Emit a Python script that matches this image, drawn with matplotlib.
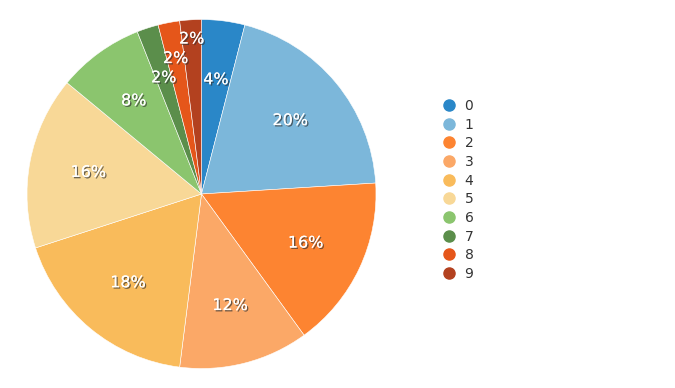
import matplotlib
matplotlib.use("Agg")
import matplotlib.pyplot as plt
import matplotlib.patheffects as pe
from matplotlib.lines import Line2D
import numpy as np

# Data
categories = ["0", "1", "2", "3", "4", "5", "6", "7", "8", "9"]
values = [4, 20, 16, 12, 18, 16, 8, 2, 2, 2]
colors = ["#2a87c8", "#7cb7da", "#fd8431", "#fba867", "#f9bb5b",
          "#f8d897", "#8bc56e", "#5b8e4b", "#e5561a", "#b3411f"]
# how far each label sits from the centre (fraction of radius)
label_dist = [0.66, 0.66, 0.66, 0.66, 0.66, 0.66, 0.66, 0.70, 0.79, 0.89]

W, H = 675, 388
fig = plt.figure(figsize=(W / 100, H / 100), dpi=100)

cx, cy, r = 201.5, 194, 174.5
ax = fig.add_axes([(cx - r) / W, (H - cy - r) / H, 2 * r / W, 2 * r / H])
wedges, _ = ax.pie(values, colors=colors, startangle=90, counterclock=False,
                   radius=1, wedgeprops=dict(linewidth=0.4, edgecolor="white"))
ax.set_xlim(-1, 1)
ax.set_ylim(-1, 1)
ax.set_aspect("equal")
ax.axis("off")

total = sum(values)
shadow = [pe.withSimplePatchShadow(offset=(1, -1), shadow_rgbFace="#333333", alpha=0.7),
          pe.Normal()]
for w, v, d in zip(wedges, values, label_dist):
    ang = np.deg2rad((w.theta1 + w.theta2) / 2)
    ax.text(d * np.cos(ang), d * np.sin(ang), f"{round(100 * v / total)}%",
            ha="center", va="center", color="white", fontsize=11.5,
            fontfamily="DejaVu Sans", path_effects=shadow)

handles = [Line2D([], [], marker="o", linestyle="", markersize=8,
                  markerfacecolor=c, markeredgecolor=c) for c in colors]
leg = fig.legend(handles, categories, loc="upper left",
                 bbox_to_anchor=(434 / W, 1 - 92 / H), frameon=False,
                 fontsize=10, labelspacing=0.335, handletextpad=0.5,
                 handlelength=1.2, borderpad=0)
for t in leg.get_texts():
    t.set_color("#333333")

fig.savefig("out.png", dpi=100)
